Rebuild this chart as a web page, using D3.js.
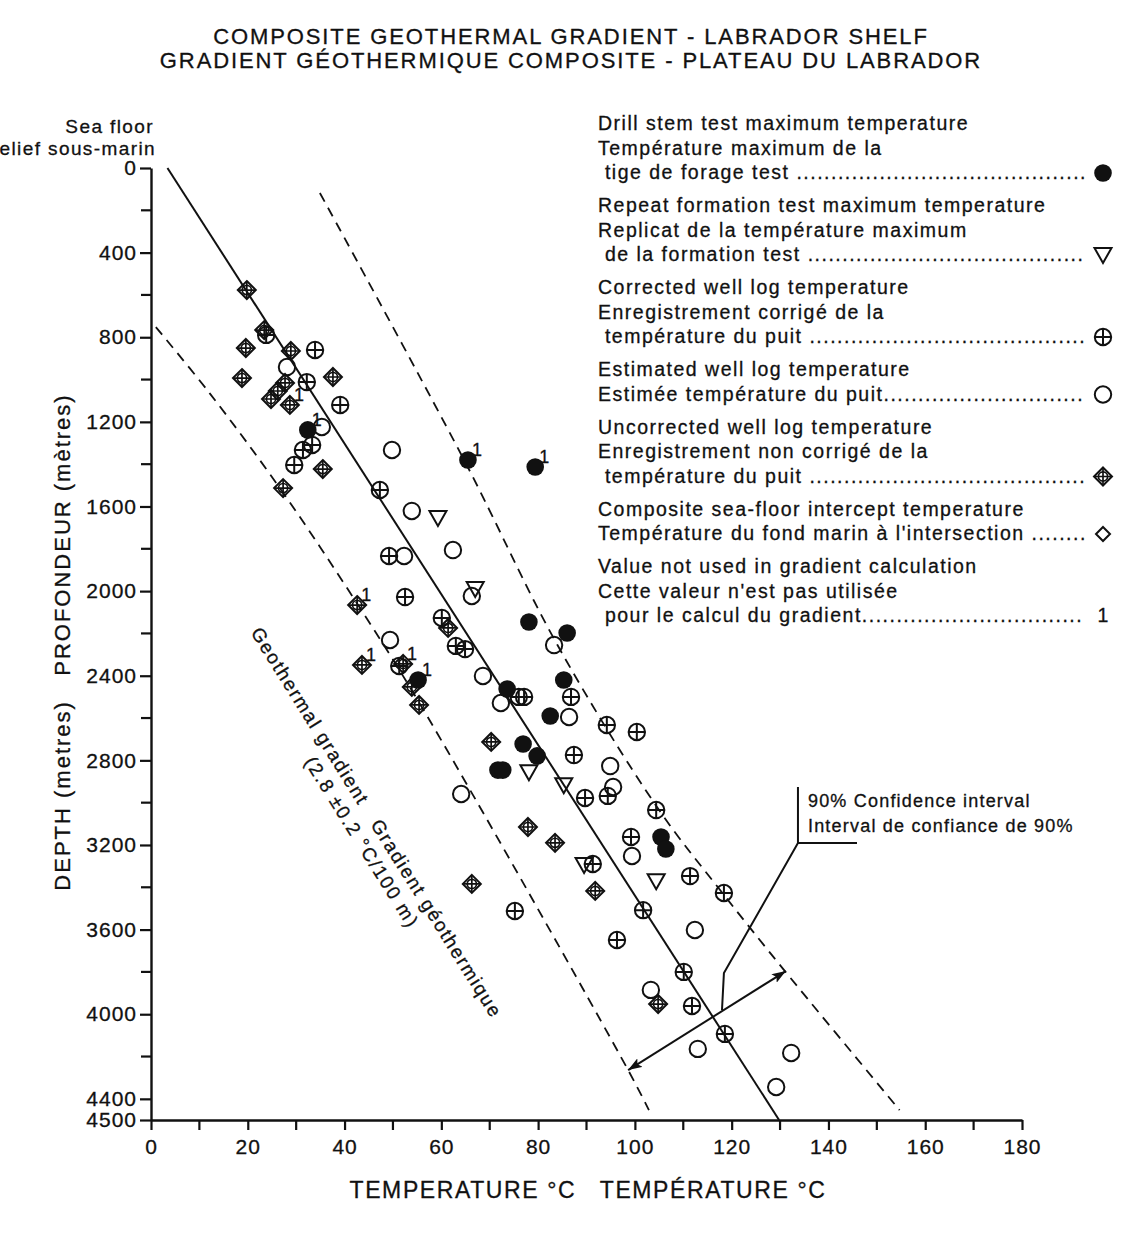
<!DOCTYPE html>
<html><head><meta charset="utf-8">
<script src="https://cdn.jsdelivr.net/npm/d3@7/dist/d3.min.js"></script>
<style>
body{margin:0;background:#fff;}
svg text{font-family:"Liberation Sans",Arial,Helvetica,sans-serif;fill:#111;stroke:#111;stroke-width:0.3px;}
</style></head><body>
<svg id="c" width="1145" height="1240" xmlns="http://www.w3.org/2000/svg"></svg>
<script>
// ---------------- DATA (temperature °C, depth m) ----------------
const drillStemTest = [[65.5,1380],[79.4,1413],[32.4,1238],[78.1,2146],[86.0,2198],[55.2,2420],[73.6,2463],[85.3,2420],[82.5,2590],[76.9,2723],[79.8,2779],[71.7,2846],[72.7,2846],[105.4,3162],[106.4,3219]];
const repeatFormationTest = [[59.3,1654],[67.0,1990],[78.1,2856],[85.3,2918],[89.5,3295],[104.4,3371]];
const correctedLog = [[23.8,789],[33.9,860],[32.2,1012],[39.1,1120],[33.3,1309],[31.4,1333],[29.6,1404],[47.3,1522],[49.2,1834],[52.5,2028],[60.1,2127],[63.0,2259],[64.9,2274],[51.3,2354],[76.0,2500],[77.1,2500],[86.8,2500],[94.2,2633],[100.4,2666],[87.4,2775],[89.7,2978],[94.4,2968],[104.4,3035],[99.2,3162],[91.3,3290],[111.4,3347],[118.4,3427],[101.7,3508],[75.2,3512],[96.3,3649],[110.1,3800],[111.8,3961],[118.6,4093]];
const estimatedLog = [[28.1,941],[35.3,1224],[49.8,1333],[53.9,1621],[52.3,1834],[62.4,1806],[66.3,2023],[49.4,2231],[83.3,2255],[68.6,2401],[72.3,2529],[86.4,2595],[94.9,2827],[95.5,2926],[64.1,2959],[99.4,3252],[112.4,3602],[103.3,3885],[113.0,4164],[132.3,4183],[129.2,4344]];
const uncorrectedLog = [[19.8,577],[23.4,766],[19.6,851],[28.9,865],[18.8,993],[37.6,988],[27.7,1016],[26.2,1054],[24.8,1092],[28.7,1120],[35.5,1423],[27.3,1513],[42.6,2066],[61.4,2174],[43.6,2349],[52.1,2344],[53.9,2453],[55.4,2538],[70.3,2713],[77.9,3115],[83.5,3190],[66.3,3384],[91.8,3417],[104.8,3952]];
const notUsedInGradient = [[65.5,1380],[79.4,1413],[32.4,1238],[55.2,2420],[28.7,1120],[42.6,2066],[43.6,2349],[52.1,2344]];
const gradientLine = [[3.4,0],[129.8,4500]];
const confidenceUpper = [[34.9,118],[64.7,1380],[84.0,2255],[105.0,3035],[118.1,3427],[131.0,3796],[154.7,4453]];
const confidenceLower = [[1.0,752],[12.1,1064],[26.9,1522],[42.8,2066],[55.7,2538],[98.6,4264],[102.9,4453]];
const ciArrow = [[98.6,4264],[131.2,3796]];
const ciCallout = [[118.0,3980],[118.4,3805],[133.7,3191],[133.7,2926]];
const ciCalloutBar = [[133.7,3191],[145.9,3191]];
const depthTicks = [0,400,800,1200,1600,2000,2400,2800,3200,3600,4000,4400,4500];
const depthMinorTicks = [200,600,1000,1400,1800,2200,2600,3000,3400,3800,4200];
const tempTicks = [0,20,40,60,80,100,120,140,160,180];
const tempMinorTicks = [10,30,50,70,90,110,130,150,170];
const titleLines = ["COMPOSITE GEOTHERMAL GRADIENT - LABRADOR SHELF","GRADIENT GÉOTHERMIQUE COMPOSITE - PLATEAU DU LABRADOR"];
const legendItems = [
  {sym:"dst", lines:["Drill stem test maximum temperature","Température maximum de la"," tige de forage test "]},
  {sym:"rft", lines:["Repeat formation test maximum temperature","Replicat de la température maximum"," de la formation test "]},
  {sym:"cor", lines:["Corrected well log temperature","Enregistrement corrigé de la"," température du puit "]},
  {sym:"est", lines:["Estimated well log temperature","Estimée température du puit"]},
  {sym:"unc", lines:["Uncorrected well log temperature","Enregistrement non corrigé de la"," température du puit "]},
  {sym:"sea", lines:["Composite sea-floor intercept temperature","Température du fond marin à l'intersection "]},
  {sym:"one", lines:["Value not used in gradient calculation","Cette valeur n'est pas utilisée"," pour le calcul du gradient"]}
];

// ---------------- DRAW ----------------
const ink = "#111";
const svg = d3.select("#c");
svg.append("rect").attr("width",1145).attr("height",1240).attr("fill","#fff");
const x = d3.scaleLinear().domain([0,180]).range([151,1022]);
const y = d3.scaleLinear().domain([0,4500]).range([168,1120]);

// titles
titleLines.forEach((t,i)=>{
  svg.append("text").attr("x",571).attr("y",44+i*24).attr("text-anchor","middle")
    .attr("font-size",22).attr("letter-spacing","1.9px").text(t);
});

// axes
const yAxis = d3.axisLeft(y).tickValues(depthTicks).tickSize(11).tickSizeOuter(0).tickPadding(3).tickFormat(d3.format("d"));
const gy = svg.append("g").attr("transform",`translate(${x(0)},0)`).call(yAxis);
gy.selectAll(".tick line").attr("stroke",ink).attr("stroke-width",2.2);
gy.select(".domain").attr("stroke",ink).attr("stroke-width",2.4);
gy.selectAll("text").attr("font-size",21).attr("letter-spacing","1px").attr("fill",ink).attr("font-family","Liberation Sans, Arial, sans-serif");
gy.selectAll(".minor").data(depthMinorTicks).enter().append("line")
  .attr("x1",-10).attr("x2",0).attr("y1",d=>y(d)).attr("y2",d=>y(d)).attr("stroke",ink).attr("stroke-width",2.2);

const xAxis = d3.axisBottom(x).tickValues(tempTicks).tickSize(10).tickSizeOuter(0).tickPadding(9);
const gx = svg.append("g").attr("transform",`translate(0,${y(4500)})`).call(xAxis);
gx.selectAll(".tick line").attr("stroke",ink).attr("stroke-width",2.2);
gx.select(".domain").attr("stroke",ink).attr("stroke-width",2.4);
gx.selectAll("text").attr("font-size",21).attr("letter-spacing","1px").attr("fill",ink).attr("font-family","Liberation Sans, Arial, sans-serif");
gx.selectAll(".minor").data(tempMinorTicks).enter().append("line")
  .attr("y1",0).attr("y2",10).attr("x1",d=>x(d)).attr("x2",d=>x(d)).attr("stroke",ink).attr("stroke-width",2.2);

// axis titles
svg.append("text").attr("x",588).attr("y",1198).attr("text-anchor","middle").attr("font-size",23)
  .attr("letter-spacing","1.6px").attr("xml:space","preserve").text("TEMPERATURE °C   TEMPÉRATURE °C");
svg.append("text").attr("transform","translate(70,642) rotate(-90)").attr("text-anchor","middle").attr("font-size",22)
  .attr("letter-spacing","2px").attr("xml:space","preserve").text("DEPTH (metres)   PROFONDEUR (mètres)");
svg.append("text").attr("x",154).attr("y",133).attr("text-anchor","end").attr("font-size",19).attr("letter-spacing","1.4px").text("Sea floor");
svg.append("text").attr("x",156).attr("y",155).attr("text-anchor","end").attr("font-size",19).attr("letter-spacing","1.4px").text("Relief sous-marin");

// lines
const line = d3.line().x(d=>x(d[0])).y(d=>y(d[1]));
const curve = d3.line().x(d=>x(d[0])).y(d=>y(d[1])).curve(d3.curveCatmullRom.alpha(0.5));
svg.append("path").attr("d",line(gradientLine)).attr("fill","none").attr("stroke",ink).attr("stroke-width",2);
[confidenceUpper,confidenceLower].forEach(b=>{
  svg.append("path").attr("d",curve(b)).attr("fill","none").attr("stroke",ink).attr("stroke-width",1.8).attr("stroke-dasharray","10,7");
});

// symbols
const SW = 2;
function sym(g,type,cx,cy){
  const s = g.append("g").attr("transform",`translate(${cx},${cy})`);
  if(type==="dst"){ s.append("circle").attr("r",8.8).attr("fill",ink); }
  else if(type==="est"){ s.append("circle").attr("r",8.2).attr("fill","none").attr("stroke",ink).attr("stroke-width",SW); }
  else if(type==="cor"){
    s.append("circle").attr("r",8.2).attr("fill","none").attr("stroke",ink).attr("stroke-width",SW);
    s.append("path").attr("d","M-8,0H8M0,-8V8").attr("stroke",ink).attr("stroke-width",SW);
  } else if(type==="unc"){
    s.append("path").attr("d","M0,-9L9,0L0,9L-9,0Z").attr("fill","none").attr("stroke",ink).attr("stroke-width",SW);
    s.append("circle").attr("r",4.6).attr("fill","none").attr("stroke",ink).attr("stroke-width",1.7);
    s.append("path").attr("d","M-9,0H9M0,-9V9").attr("stroke",ink).attr("stroke-width",1.7);
  } else if(type==="rft"){
    s.append("path").attr("d","M-8.5,-7L8.5,-7L0,8Z").attr("fill","none").attr("stroke",ink).attr("stroke-width",SW).attr("stroke-linejoin","miter");
  } else if(type==="sea"){
    s.append("path").attr("d","M0,-7L7,0L0,7L-7,0Z").attr("fill","none").attr("stroke",ink).attr("stroke-width",SW);
  }
  return s;
}
const pts = svg.append("g");
[[uncorrectedLog,"unc"],[estimatedLog,"est"],[correctedLog,"cor"],[repeatFormationTest,"rft"],[drillStemTest,"dst"]].forEach(([arr,t])=>{
  arr.forEach(d=>sym(pts,t,x(d[0]),y(d[1])));
});
notUsedInGradient.forEach(d=>{
  pts.append("text").attr("x",x(d[0])+4).attr("y",y(d[1])-4).attr("font-size",18).text("1");
});

// confidence arrow + callout
const defs = svg.append("defs");
defs.append("marker").attr("id","ah").attr("viewBox","0 0 14 10").attr("refX",14).attr("refY",5)
  .attr("markerWidth",14).attr("markerHeight",10).attr("markerUnits","userSpaceOnUse").attr("orient","auto-start-reverse")
  .append("path").attr("d","M0,0L14,5L0,10L3,5Z").attr("fill",ink);
svg.append("path").attr("d",line(ciArrow)).attr("stroke",ink).attr("stroke-width",2).attr("fill","none")
  .attr("marker-start","url(#ah)").attr("marker-end","url(#ah)");
svg.append("path").attr("d",line(ciCallout)).attr("stroke",ink).attr("stroke-width",2).attr("fill","none");
svg.append("path").attr("d",line(ciCalloutBar)).attr("stroke",ink).attr("stroke-width",2).attr("fill","none");
svg.append("text").attr("x",x(133.7)+10).attr("y",807).attr("font-size",18).attr("letter-spacing","1.2px").text("90% Confidence interval");
svg.append("text").attr("x",x(133.7)+10).attr("y",832).attr("font-size",18).attr("letter-spacing","1.2px").text("Interval de confiance de 90%");

// rotated gradient label
const gl = svg.append("g").attr("transform","translate(262,625) rotate(58)");
gl.append("text").attr("x",0).attr("y",14).attr("font-size",19).attr("letter-spacing","1.7px")
  .attr("xml:space","preserve").text("Geothermal gradient   Gradient géothermique");
gl.append("text").attr("x",138).attr("y",37).attr("font-size",19).attr("letter-spacing","1.7px")
  .text("(2.8 ±0.2 °C/100 m)");

// legend
const LX = 598, dotEnd = 1088, symX = 1103;
let ly = 130;
legendItems.forEach((it,ii)=>{
  it.lines.forEach((ln,li)=>{
    const last = li===it.lines.length-1;
    const t = svg.append("text").attr("x",LX).attr("y",ly).attr("font-size",19.5).attr("letter-spacing","1.5px")
      .attr("xml:space","preserve").text(ln);
    if(last){
      let s = ln;
      while(t.node().getComputedTextLength() + LX < dotEnd - 6){ s += "."; t.text(s); }
      if(it.sym==="one"){
        svg.append("text").attr("x",symX).attr("y",ly).attr("text-anchor","middle").attr("font-size",19.5).text("1");
      } else {
        sym(svg,it.sym,symX,ly-6);
      }
    }
    ly += 24.5;
  });
  ly += 8.5;
});
</script>
</body></html>
